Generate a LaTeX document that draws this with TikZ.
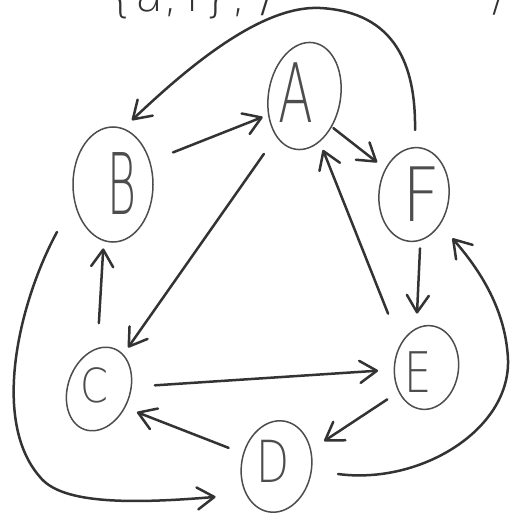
\documentclass[tikz,border=0pt]{standalone}
\usepackage{fontspec}
\newfontfamily\hand{DejaVu Sans ExtraLight}
\usetikzlibrary{arrows.meta,shapes.geometric}
\definecolor{ink}{HTML}{333333}
\definecolor{ring}{HTML}{4d4d4d}
\begin{document}
\begin{tikzpicture}[x=1pt,y=-1pt,
  vert/.style={draw=ring, line width=1.5pt, ellipse, inner sep=0pt, outer sep=0pt},
  letter/.style={text=ring, inner sep=0pt},
  edge/.style={draw=ink, line width=2.5pt, line cap=round, line join=round,
    -{Straight Barb[round,length=17pt,width=22pt]}},
]
\useasboundingbox[fill=white] (0,0) rectangle (515,518);

% vertices
\node[vert, minimum width=72pt, minimum height=108pt, rotate=-10] (A) at (304.5,96) {};
\node[vert, minimum width=80pt, minimum height=115pt] (B) at (113,184.5) {};
\node[vert, minimum width=62pt, minimum height=86pt, rotate=-20] (C) at (99,389) {};
\node[vert, minimum width=70pt, minimum height=94pt, rotate=-6] (F) at (414,194.5) {};
\node[vert, minimum width=64pt, minimum height=84pt, rotate=-7] (E) at (426.5,367.5) {};
\node[vert, minimum width=70pt, minimum height=92pt, rotate=-10] (D) at (276.5,466.5) {};

% letters
\node[letter, font={\hand\fontsize{82pt}{82pt}\selectfont}] (lA) at (295.5,93) {\scalebox{0.62}[1]{A}};
\node[letter, font={\hand\fontsize{85pt}{85pt}\selectfont}] (lB) at (122,184) {\scalebox{0.52}[1]{B}};
\node[letter, font={\hand\fontsize{47pt}{47pt}\selectfont}] (lC) at (94,385) {\scalebox{0.85}[1]{C}};
\node[letter, font={\hand\fontsize{75pt}{75pt}\selectfont}] (lF) at (421,194.5) {\scalebox{0.88}[1]{F}};
\node[letter, font={\hand\fontsize{56pt}{56pt}\selectfont}] (lE) at (418.5,372.5) {\scalebox{0.77}[1]{E}};
\node[letter, font={\hand\fontsize{58pt}{58pt}\selectfont}] (lD) at (273.5,461) {\scalebox{0.74}[1]{D}};

% note at the top, cut by the edge as in the reference
\node[text=ink, inner sep=0pt, anchor=base west, font={\hand\fontsize{46pt}{46pt}\selectfont}] (note) at (106,12) {\{a,\,f\},\ /};
\node[text=ink, inner sep=0pt, anchor=base west, font={\hand\fontsize{40pt}{40pt}\selectfont}] (note2) at (492,12) {/};

% free ends
\coordinate (f1) at (415,130);
\coordinate (d1) at (338,474);
\coordinate (b1) at (57,232);

% straight edges
\draw[edge, shorten <=64.5pt, shorten >=45pt] ([yshift=8.4pt]B.center) -- ([yshift=-4.5pt]A.center);
\draw[edge, shorten <=70.7pt, shorten >=50.6pt] (A.center) -- (C.center);
\draw[edge, shorten <=36.6pt, shorten >=46.8pt] ([yshift=-9.6pt]A.center) -- ([yshift=3.4pt]F.center);
\draw[edge, shorten <=58pt, shorten >=58pt] ([xshift=-17pt]E.center) -- ([xshift=-3pt]A.center);
\draw[edge, shorten <=54pt, shorten >=54pt] ([xshift=8.5pt]F.center) -- ([xshift=-12pt]E.center);
\draw[edge, shorten <=66pt, shorten >=64pt] ([xshift=-4pt]C.center) -- ([xshift=-6pt]B.center);
\draw[edge, shorten <=56pt, shorten >=48.5pt] (C.center) -- (E.center);
\draw[edge, shorten <=51.4pt, shorten >=40.7pt] (D.center) -- ([yshift=-8.4pt]C.center);
\draw[edge, shorten <=47pt, shorten >=57pt] ([yshift=-6pt]E.center) -- ([yshift=-6pt]D.center);

% curved edges
\draw[edge, shorten >=12.5pt] (f1) .. controls (416,65) and (395,12) .. (320,8)
  .. controls (260,5) and (185,70) .. (B.80);
\draw[edge, shorten >=19pt] (d1) .. controls (420,485) and (510,430) .. (508,360)
  .. controls (506,310) and (480,270) .. (F);
\draw[edge, shorten >=31pt] (b1) .. controls (20,300) and (-10,420) .. (40,477)
  .. controls (60,502) and (120,505) .. (D.south west);
\end{tikzpicture}
\end{document}
